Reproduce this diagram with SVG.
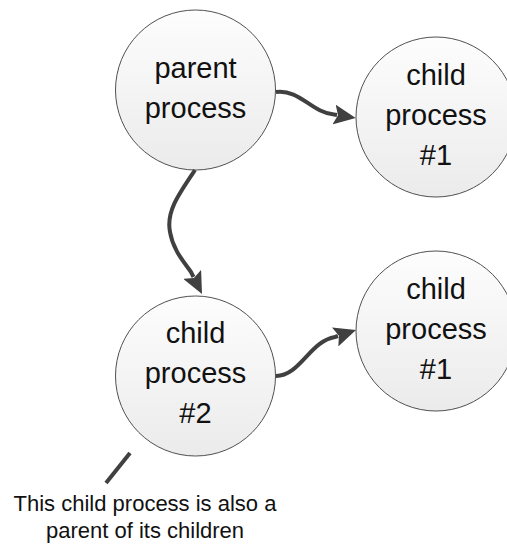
<svg xmlns="http://www.w3.org/2000/svg" width="507" height="547" viewBox="0 0 507 547">
  <style>
    .node circle { fill: url(#g); stroke: #505050; stroke-width: 1; }
    .node text { font-family: "Liberation Sans", Arial, sans-serif; font-size: 29px; fill: #111; text-anchor: middle; }
    .conn { fill: none; stroke: #404040; stroke-width: 4; }
    .note { font-family: "Liberation Sans", Arial, sans-serif; font-size: 22px; fill: #111; text-anchor: middle; }
  </style>
  <defs>
    <linearGradient id="g" x1="0" y1="0" x2="0" y2="1">
      <stop offset="0" stop-color="#fdfdfd"/>
      <stop offset="1" stop-color="#ebebeb"/>
    </linearGradient>
    <marker id="arr" viewBox="0 0 22 20" markerUnits="userSpaceOnUse" markerWidth="22" markerHeight="20" refX="3" refY="10" orient="auto">
      <path d="M0,0 L22,10 L0,20 L4,10 z" fill="#404040"/>
    </marker>
  </defs>

  <g id="parent" class="node">
    <circle cx="195.5" cy="90" r="80"/>
    <text x="195.5" y="78">parent</text>
    <text x="195.5" y="118">process</text>
  </g>
  <g id="child1-top" class="node">
    <circle cx="436" cy="117" r="80"/>
    <text x="436" y="85">child</text>
    <text x="436" y="125">process</text>
    <text x="436" y="165">#1</text>
  </g>
  <g id="child2" class="node">
    <circle cx="195.5" cy="376" r="80"/>
    <text x="195.5" y="343">child</text>
    <text x="195.5" y="383">process</text>
    <text x="195.5" y="423">#2</text>
  </g>
  <g id="child1-bottom" class="node">
    <circle cx="436" cy="331" r="80"/>
    <text x="436" y="299">child</text>
    <text x="436" y="339">process</text>
    <text x="436" y="379">#1</text>
  </g>

  <g id="connectors">
    <path class="conn" d="M276,92 C300,89 312,113 334,114.5 L337,115" marker-end="url(#arr)"/>
    <path class="conn" d="M195,170 C178,195 166,212 170,232 C173,250 184,262 191,272 L193.5,277" marker-end="url(#arr)"/>
    <path class="conn" d="M276,376 C300,376 310,341 335,337 L338,336" marker-end="url(#arr)"/>
    <line class="conn" x1="130" y1="453" x2="106" y2="483" stroke-width="3.5"/>
  </g>

  <g id="annotation">
    <text class="note" x="145" y="511">This child process is also a</text>
    <text class="note" x="145" y="538">parent of its children</text>
  </g>
</svg>
